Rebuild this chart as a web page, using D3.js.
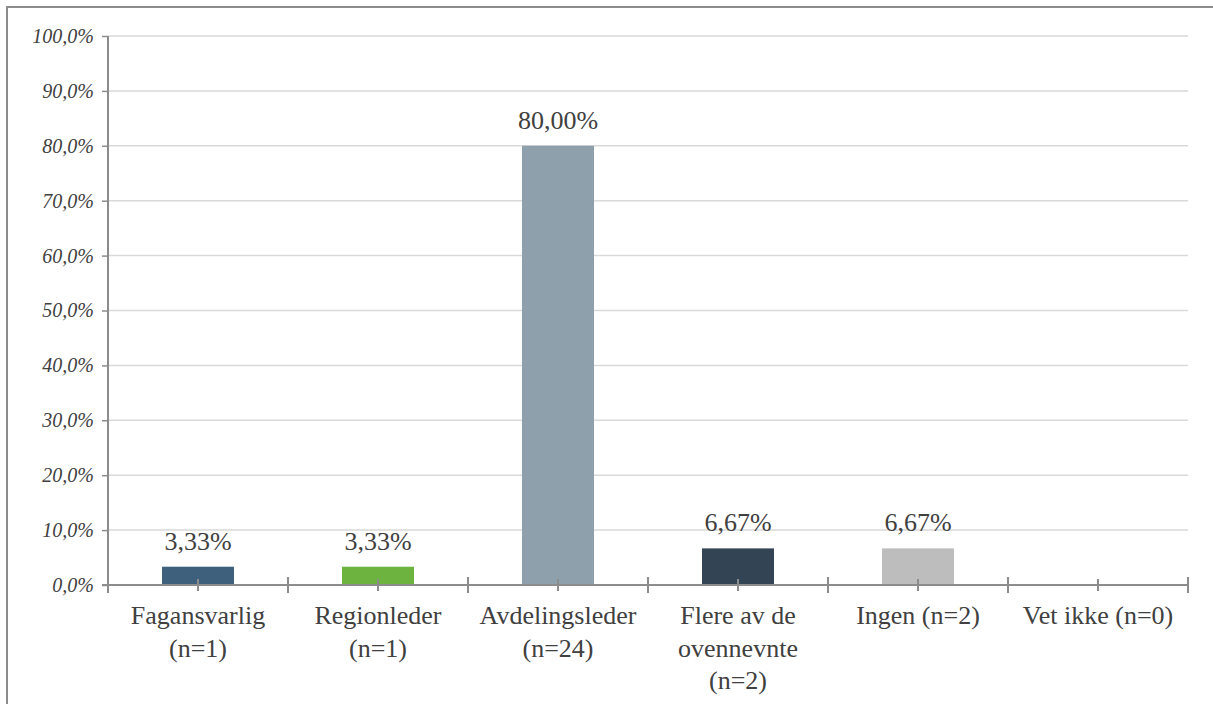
<!DOCTYPE html>
<html><head><meta charset="utf-8">
<script src="https://cdn.jsdelivr.net/npm/d3@7"></script>
<style>
html,body{margin:0;padding:0;background:#fff;overflow:hidden}
</style>
</head><body>
<svg id="chart" width="1213" height="704"></svg>
<script>
const categories = [
  ["Fagansvarlig", "(n=1)"],
  ["Regionleder", "(n=1)"],
  ["Avdelingsleder", "(n=24)"],
  ["Flere av de", "ovennevnte", "(n=2)"],
  ["Ingen (n=2)"],
  ["Vet ikke (n=0)"]
];
const values = [3.33, 3.33, 80.00, 6.67, 6.67, 0];
const colors = ["#3F607C", "#6CB33F", "#8DA0AC", "#334454", "#BDBDBD", "#BDBDBD"];
const yTicks = [0, 10, 20, 30, 40, 50, 60, 70, 80, 90, 100];

// pick an installed serif font
function pickFont() {
  const c = document.createElement("canvas").getContext("2d");
  const probe = "Fagansvarlig 80,00% (n=1) WwIil";
  const base = {};
  ["monospace", "sans-serif"].forEach(b => { c.font = `40px ${b}`; base[b] = c.measureText(probe).width; });
  const cands = ["Liberation Serif", "Tinos", "Times New Roman", "DejaVu Serif", "Noto Serif", "FreeSerif", "Nimbus Roman", "Noto Serif CJK SC", "Georgia"];
  for (const f of cands) {
    let ok = true;
    for (const b of ["monospace", "sans-serif"]) {
      c.font = `40px "${f}", ${b}`;
      if (Math.abs(c.measureText(probe).width - base[b]) < 0.01) ok = false;
    }
    if (ok) return `"${f}", serif`;
  }
  return `"Liberation Serif", serif`;
}
const FONT = pickFont();

const svg = d3.select("#chart");
const margin = {left: 108, right: 1188, top: 36, bottom: 585};

svg.append("rect").attr("x", 7).attr("y", 7).attr("width", 1300).attr("height", 800)
  .attr("fill", "none").attr("stroke", "#8c8c8c").attr("stroke-width", 2);

const x = d3.scaleBand().domain(d3.range(categories.length)).range([margin.left, margin.right]).padding(0);
const y = d3.scaleLinear().domain([0, 100]).range([margin.bottom, margin.top]);
const barW = 72;

svg.append("g").selectAll("line").data(yTicks.filter(d => d > 0)).join("line")
  .attr("x1", margin.left).attr("x2", margin.right)
  .attr("y1", d => y(d)).attr("y2", d => y(d))
  .attr("stroke", "#d9d9d9").attr("stroke-width", 1.5);

const yAxis = d3.axisLeft(y).tickValues(yTicks).tickSize(6)
  .tickFormat(d => d.toFixed(1).replace(".", ",") + "%");
const gy = svg.append("g").attr("transform", `translate(${margin.left},0)`).call(yAxis);
gy.attr("font-family", FONT);
gy.select(".domain").remove();
gy.selectAll(".tick line").attr("stroke", "#8c8c8c").attr("stroke-width", 1.5);
gy.selectAll(".tick text").attr("x", -14).attr("dy", "0.32em")
  .attr("font-family", FONT)
  .attr("font-style", "italic").attr("font-size", 20).attr("fill", "#404040");
svg.append("line").attr("x1", margin.left).attr("x2", margin.left)
  .attr("y1", y(100)).attr("y2", margin.bottom + 8)
  .attr("stroke", "#8c8c8c").attr("stroke-width", 2);

svg.append("g").selectAll("rect").data(values).join("rect")
  .attr("x", (d, i) => x(i) + x.bandwidth() / 2 - barW / 2)
  .attr("width", barW)
  .attr("y", d => y(d))
  .attr("height", d => y(0) - y(d))
  .attr("fill", (d, i) => colors[i]);

svg.append("line").attr("x1", margin.left - 6).attr("x2", margin.right)
  .attr("y1", y(0)).attr("y2", y(0)).attr("stroke", "#8c8c8c").attr("stroke-width", 2);

const bounds = d3.range(categories.length + 1).map(i => i === categories.length ? margin.right : x(i));
svg.append("g").selectAll("line").data(bounds.slice(1)).join("line")
  .attr("x1", d => d).attr("x2", d => d)
  .attr("y1", y(0) - 8).attr("y2", y(0) + 8)
  .attr("stroke", "#8c8c8c").attr("stroke-width", 2);
svg.append("g").selectAll("line").data(d3.range(categories.length)).join("line")
  .attr("x1", i => x(i) + x.bandwidth() / 2).attr("x2", i => x(i) + x.bandwidth() / 2)
  .attr("y1", y(0) - 6).attr("y2", y(0) + 6)
  .attr("stroke", "#8c8c8c").attr("stroke-width", 2);

const xl = svg.append("g").selectAll("text").data(categories).join("text")
  .attr("text-anchor", "middle")
  .attr("font-family", FONT)
  .attr("font-size", 26).attr("fill", "#404040");
xl.each(function(lines, i) {
  d3.select(this).selectAll("tspan").data(lines).join("tspan")
    .attr("x", x(i) + x.bandwidth() / 2)
    .attr("y", (d, j) => 624 + j * 32.5)
    .text(d => d);
});

svg.append("g").selectAll("text").data(values.map((v, i) => ({v, i})).filter(d => d.v > 0)).join("text")
  .attr("x", d => x(d.i) + x.bandwidth() / 2)
  .attr("y", d => y(d.v) - 17)
  .attr("text-anchor", "middle")
  .attr("font-family", FONT)
  .attr("font-size", 26).attr("fill", "#404040")
  .text(d => d.v.toFixed(2).replace(".", ",") + "%");
</script>
</body></html>
